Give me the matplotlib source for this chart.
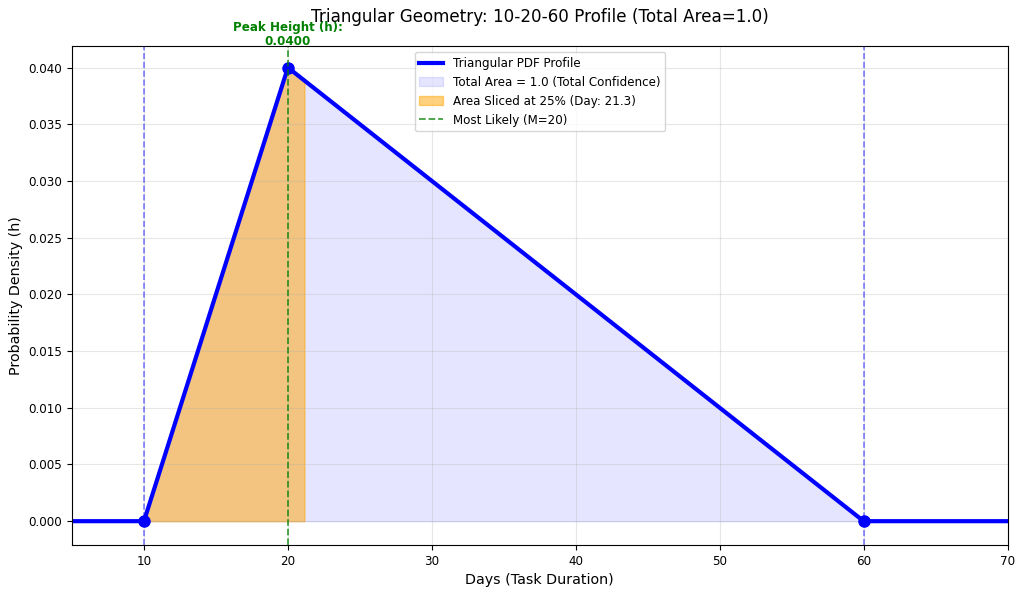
import matplotlib
matplotlib.use('Agg')
from matplotlib import pyplot as plt

# triangular distribution 10-20-60
pdf_days = [5, 10, 20, 60, 70]
pdf_density = [0.0, 0.0, 0.04, 0.0, 0.0]
vertex_days = [10, 20, 60]
vertex_density = [0.0, 0.04, 0.0]
slice_days = [10, 20, 21.15]
slice_density = [0.0, 0.04, 0.0389]
most_likely = 20
peak_h = 0.04

fig = plt.figure(figsize=(10.24, 5.94), dpi=100)
ax = fig.add_axes([0.0703, 0.0825, 0.9137, 0.8401])

ax.plot(pdf_days, pdf_density, color='blue', lw=3, label='Triangular PDF Profile')
ax.plot(vertex_days, vertex_density, 'o', color='blue', ms=8)
ax.fill_between(vertex_days, vertex_density, color='blue', alpha=0.1,
                label='Total Area = 1.0 (Total Confidence)')
ax.fill_between(slice_days, slice_density, color='orange', alpha=0.5,
                label='Area Sliced at 25% (Day: 21.3)')
ax.axvline(most_likely, color='green', ls='--', lw=1.3, alpha=0.75, label='Most Likely (M=20)')
ax.axvline(vertex_days[0], color='blue', ls='--', lw=1.2, alpha=0.5)
ax.axvline(vertex_days[-1], color='blue', ls='--', lw=1.2, alpha=0.5)

ax.text(most_likely, 0.0417, 'Peak Height (h):\n%.4f' % peak_h, color='green',
        fontweight='bold', ha='center', va='bottom', fontsize=8.6,
        linespacing=1.1, clip_on=False)

ax.set_xlim(5, 70)
ax.set_ylim(-0.0021, 0.0419)
ax.set_title('Triangular Geometry: 10-20-60 Profile (Total Area=1.0)', fontsize=12.1, pad=17)
ax.set_xlabel('Days (Task Duration)', fontsize=10.3)
ax.set_ylabel('Probability Density (h)', fontsize=10.3)
ax.tick_params(labelsize=8.6)
ax.grid(True, alpha=0.3)
ax.legend(loc='upper center', fontsize=8.6)

fig.savefig('out.png', dpi=100)
